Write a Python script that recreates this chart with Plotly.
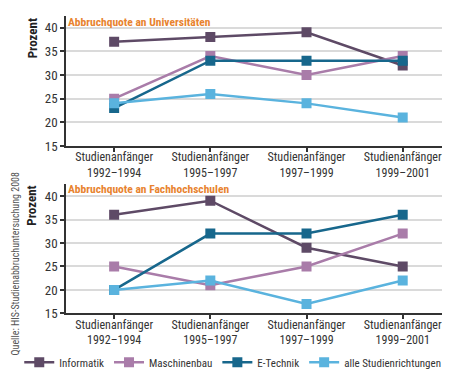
import plotly.graph_objects as go

categories = ["Studienanfänger<br>1992–1994", "Studienanfänger<br>1995–1997",
              "Studienanfänger<br>1997–1999", "Studienanfänger<br>1999–2001"]
series_names = ["Informatik", "Maschinenbau", "E-Technik", "alle Studienrichtungen"]
colors = ["#5e4a66", "#a97ca9", "#17678c", "#5ab3de"]

uni_informatik = [37, 38, 39, 32]
uni_maschinenbau = [25, 34, 30, 34]
uni_etechnik = [23, 33, 33, 33]
uni_alle = [24, 26, 24, 21]

fh_informatik = [36, 39, 29, 25]
fh_maschinenbau = [25, 21, 25, 32]
fh_etechnik = [20, 32, 32, 36]
fh_alle = [20, 22, 17, 22]

yticks = [15, 20, 25, 30, 35, 40]
title_uni = "Abbruchquote an Universitäten"
title_fh = "Abbruchquote an Fachhochschulen"
y_title = "Prozent"
source = "Quelle: HIS-Studienabbruchuntersuchung 2008"

FONT = "Roboto Condensed, DejaVu Sans Condensed, sans-serif"

fig = go.Figure()
uni = [uni_informatik, uni_maschinenbau, uni_etechnik, uni_alle]
fh = [fh_informatik, fh_maschinenbau, fh_etechnik, fh_alle]
for i, name in enumerate(series_names):
    fig.add_trace(go.Scatter(x=categories, y=uni[i], name=name, mode="lines+markers",
                             line=dict(color=colors[i], width=2.5),
                             marker=dict(symbol="square", size=10, color=colors[i]),
                             xaxis="x", yaxis="y", showlegend=False))
for i, name in enumerate(series_names):
    fig.add_trace(go.Scatter(x=categories, y=fh[i], name=name, mode="lines+markers",
                             line=dict(color=colors[i], width=2.5),
                             marker=dict(symbol="square", size=10, color=colors[i]),
                             xaxis="x2", yaxis="y2", showlegend=True))

xcommon = dict(type="category", range=[-0.5, 3.5], domain=[0.129, 0.984],
               showline=True, linecolor="#333333", linewidth=1.5,
               ticks="outside", ticklen=4, tickcolor="#333333", tickwidth=1.5,
               ticklabelstandoff=-5,
               showgrid=False, tickfont=dict(family=FONT, size=12, color="#333333"))
ycommon = dict(range=[15, 42.5], tickvals=yticks, showline=True, linecolor="#333333",
               linewidth=1.5, ticks="outside", ticklen=4, tickcolor="#333333", tickwidth=1.5,
               showgrid=True, gridcolor="#dadada", gridwidth=1.5, zeroline=False,
               tickfont=dict(family=FONT, size=13, color="#333333"))

fig.update_layout(
    width=450, height=376,
    margin=dict(l=0, r=0, t=0, b=0),
    paper_bgcolor="white", plot_bgcolor="white",
    xaxis=dict(xcommon, anchor="y"),
    yaxis=dict(ycommon, domain=[0.625, 0.979], anchor="x"),
    xaxis2=dict(xcommon, anchor="y2"),
    yaxis2=dict(ycommon, domain=[0.170, 0.521], anchor="x2"),
    legend=dict(orientation="h", x=0.025, y=1-362/376, xanchor="left", yanchor="middle",
                font=dict(family=FONT, size=11, color="#333333"), itemwidth=30,
                borderwidth=0, tracegroupgap=0, bgcolor="rgba(0,0,0,0)"),
    annotations=[
        dict(text="<b>" + title_uni + "</b>", xref="paper", yref="paper", x=58/450, y=1-14/376,
             xanchor="left", yanchor="middle", showarrow=False,
             font=dict(family=FONT, size=11.5, color="#e8832f")),
        dict(text="<b>" + title_fh + "</b>", xref="paper", yref="paper", x=58/450, y=1-185/376,
             xanchor="left", yanchor="middle", showarrow=False,
             font=dict(family=FONT, size=11.5, color="#e8832f")),
        dict(text="<b>" + y_title + "</b>", xref="paper", yref="paper", x=24/450, y=1-31/376,
             xanchor="center", yanchor="middle", showarrow=False, textangle=-90,
             font=dict(family=FONT, size=13, color="#222222")),
        dict(text="<b>" + y_title + "</b>", xref="paper", yref="paper", x=24/450, y=1-202/376,
             xanchor="center", yanchor="middle", showarrow=False, textangle=-90,
             font=dict(family=FONT, size=13, color="#222222")),
        dict(text=source, xref="paper", yref="paper", x=7/450, y=1-262/376,
             xanchor="center", yanchor="middle", showarrow=False, textangle=-90,
             font=dict(family=FONT, size=10, color="#555555")),
    ],
)

fig.write_html("out.html")
